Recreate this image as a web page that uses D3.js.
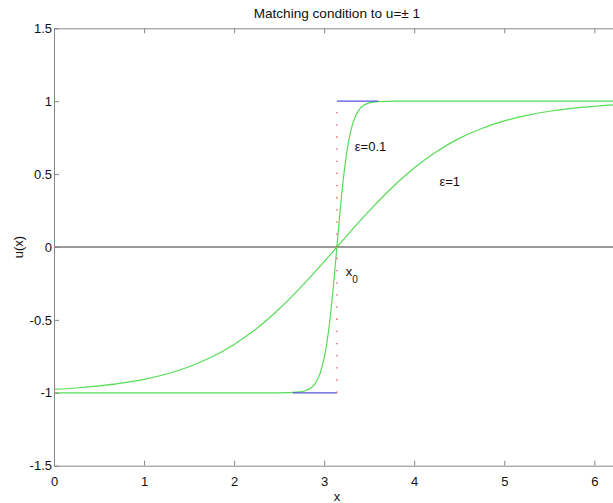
<!DOCTYPE html>
<html>
<head>
<meta charset="utf-8">
<script src="https://cdn.jsdelivr.net/npm/d3@7"></script>
<style>
  body { margin: 0; background: #fff; }
  svg { display: block; }
  text { font-family: "Liberation Sans", Arial, sans-serif; }
</style>
</head>
<body>
<div id="chart"></div>
<script>
// Values
var xTicks = [0, 1, 2, 3, 4, 5, 6];
var yTicks = [-1.5, -1, -0.5, 0, 0.5, 1, 1.5];

// eps = 1 curve
var eps1X = [0, 0.25, 0.5, 0.75, 1.0, 1.25, 1.5, 1.75, 2.0, 2.25, 2.5, 2.75, 3.0, 3.1416,
             3.25, 3.5, 3.75, 4.0, 4.25, 4.5, 4.75, 5.0, 5.25, 5.5, 5.75, 6.0, 6.25, 6.2832];
var eps1Y = [-0.977, -0.967, -0.953, -0.934, -0.908, -0.871, -0.821, -0.755, -0.668, -0.559, -0.425, -0.270, -0.100, 0,
             0.077, 0.248, 0.405, 0.542, 0.655, 0.745, 0.813, 0.865, 0.903, 0.931, 0.951, 0.965, 0.976, 0.977];

// eps = 0.1 curve
var eps01X = [0, 2.5, 2.7, 2.8, 2.9, 2.95, 3.0, 3.05, 3.1, 3.1416, 3.2, 3.25, 3.3, 3.35, 3.4, 3.5, 3.6, 3.8, 6.2832];
var eps01Y = [-1, -1, -0.996, -0.984, -0.937, -0.875, -0.762, -0.570, -0.286, 0, 0.391, 0.645, 0.808, 0.900, 0.950, 0.988, 0.997, 1, 1];

// matching segments (blue) and x0 marker (red dots)
var matchTop = [[3.1416, 1], [3.6, 1]];
var matchBottom = [[2.65, -1], [3.1416, -1]];
var x0Line = [[3.1416, -1], [3.1416, 1]];
var zeroLine = [[0, 0], [6.2832, 0]];

// annotations in data coordinates
var labels = [
  { x: 3.34, y: 0.66, text: "\u03b5=0.1" },
  { x: 4.28, y: 0.42, text: "\u03b5=1" }
];
var x0Label = { x: 3.24, y: -0.20 };

var W = 613, H = 503;
var margin = { top: 28.3, left: 54 };
var plotW = 6.2832 * 90.05, plotH = 437.4;

var svg = d3.select("#chart").append("svg")
    .attr("width", W)
    .attr("height", H);

var x = d3.scaleLinear().domain([0, 6.2832]).range([margin.left, margin.left + plotW]);
var y = d3.scaleLinear().domain([-1.5, 1.5]).range([margin.top + plotH, margin.top]);

svg.append("clipPath").attr("id", "clip")
  .append("rect")
    .attr("x", margin.left).attr("y", margin.top)
    .attr("width", plotW).attr("height", plotH);

var plot = svg.append("g").attr("clip-path", "url(#clip)");

var line = d3.line()
    .x(function(d) { return x(d[0]); })
    .y(function(d) { return y(d[1]); });

var smooth = d3.line()
    .x(function(d) { return x(d[0]); })
    .y(function(d) { return y(d[1]); })
    .curve(d3.curveMonotoneX);

// zero line
plot.append("path")
    .attr("d", line(zeroLine))
    .attr("fill", "none")
    .attr("stroke", "#333")
    .attr("stroke-width", 1);

// green curves
plot.append("path")
    .attr("d", smooth(d3.zip(eps1X, eps1Y)))
    .attr("fill", "none")
    .attr("stroke", "#55dd55")
    .attr("stroke-width", 1.2);

plot.append("path")
    .attr("d", smooth(d3.zip(eps01X, eps01Y)))
    .attr("fill", "none")
    .attr("stroke", "#55dd55")
    .attr("stroke-width", 1.2);

// blue matching segments
[matchTop, matchBottom].forEach(function(seg) {
  plot.append("path")
      .attr("d", line(seg))
      .attr("fill", "none")
      .attr("stroke", "#5555dd")
      .attr("stroke-width", 1.2);
});

// red dotted line at x0
var dotStep = (y(-1) - y(1)) / 24;
plot.append("path")
    .attr("d", line(x0Line))
    .attr("fill", "none")
    .attr("stroke", "#e05050")
    .attr("stroke-width", 1.3)
    .attr("stroke-dasharray", "1.3," + (dotStep - 1.3));

// axes
var fmt = function(d) { return String(d); };

var gBottom = svg.append("g")
    .attr("transform", "translate(0," + (margin.top + plotH) + ")")
    .call(d3.axisBottom(x).tickValues(xTicks).tickFormat(fmt)
          .tickSizeInner(-5).tickSizeOuter(0).tickPadding(11));

var gTop = svg.append("g")
    .attr("transform", "translate(0," + margin.top + ")")
    .call(d3.axisTop(x).tickValues(xTicks).tickFormat("")
          .tickSizeInner(-5).tickSizeOuter(0));

var gLeft = svg.append("g")
    .attr("transform", "translate(" + margin.left + ",0)")
    .call(d3.axisLeft(y).tickValues(yTicks).tickFormat(fmt)
          .tickSizeInner(-5).tickSizeOuter(0).tickPadding(2));

var gRight = svg.append("g")
    .attr("transform", "translate(" + (margin.left + plotW) + ",0)")
    .call(d3.axisRight(y).tickValues(yTicks).tickFormat("")
          .tickSizeInner(-5).tickSizeOuter(0));

[gBottom, gTop, gLeft, gRight].forEach(function(g) {
  g.select(".domain").attr("stroke", "#888");
  g.selectAll(".tick line").attr("stroke", "#888");
  g.selectAll(".tick text")
      .attr("fill", "#111")
      .style("font-size", "13px")
      .style("font-family", "'Liberation Sans', Arial, sans-serif");
});

// title and axis labels
svg.append("text")
    .attr("x", margin.left + plotW / 2)
    .attr("y", 18)
    .attr("text-anchor", "middle")
    .style("font-size", "13.6px")
    .attr("fill", "#111")
    .text("Matching condition to u=\u00b1 1");

svg.append("text")
    .attr("x", margin.left + plotW / 2)
    .attr("y", 501)
    .attr("text-anchor", "middle")
    .style("font-size", "13px")
    .attr("fill", "#111")
    .text("x");

svg.append("text")
    .attr("transform", "translate(23," + (margin.top + plotH / 2) + ") rotate(-90)")
    .attr("text-anchor", "middle")
    .style("font-size", "13px")
    .attr("fill", "#111")
    .text("u(x)");

// curve annotations
labels.forEach(function(l) {
  svg.append("text")
      .attr("x", x(l.x))
      .attr("y", y(l.y))
      .style("font-size", "13px")
      .attr("fill", "#111")
      .text(l.text);
});

var x0t = svg.append("text")
    .attr("x", x(x0Label.x))
    .attr("y", y(x0Label.y))
    .style("font-size", "13px")
    .attr("fill", "#111");
x0t.append("tspan").text("x");
x0t.append("tspan").attr("dy", 7).style("font-size", "10px").text("0");
</script>
</body>
</html>
